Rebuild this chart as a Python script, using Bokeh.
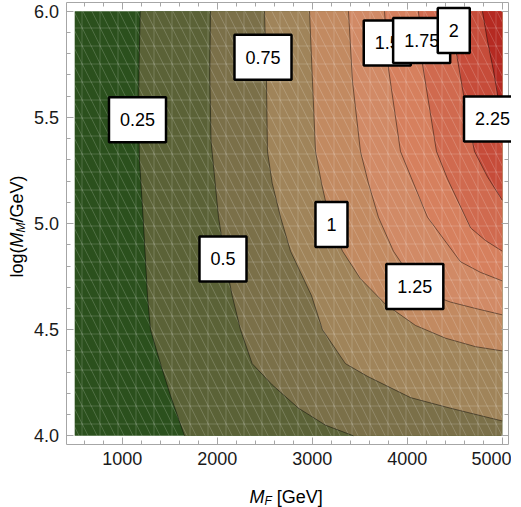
import math

from bokeh.embed import file_html
from bokeh.models import FixedTicker, Label, LinearAxis, PrintfTickFormatter, Range1d
from bokeh.plotting import figure
from bokeh.resources import INLINE

# ---- domain -------------------------------------------------------------
MF_MIN, MF_MAX = 500, 5000          # M_F [GeV]
LM_MIN, LM_MAX = 4.0, 6.0           # log10(M_M / GeV)

# frame box drawn around the domain (a little padding on every side)
BOX_X = (410, 5065)
BOX_Y = (3.959, 6.0415)

levels = [0.25, 0.5, 0.75, 1.0, 1.25, 1.5, 1.75, 2.0, 2.25]

# ---- contour traces (M_F, log M_M), each running down from the top edge ---
c025_mf = [1190, 1178, 1172, 1182, 1224, 1266, 1298, 1403, 1508, 1656]
c025_lm = [6.00, 5.75, 5.50, 5.30, 5.00, 4.66, 4.50, 4.34, 4.19, 4.00]

c050_mf = [1929, 1922, 1935, 2014, 2087, 2158, 2245, 2368, 2579, 2856, 3140, 3434]
c050_lm = [6.00, 5.70, 5.39, 5.03, 4.82, 4.66, 4.50, 4.34, 4.24, 4.13, 4.05, 4.00]

c075_mf = [2498, 2519, 2529, 2579, 2667, 2772, 2993, 3108, 3350, 3582, 4035, 4456, 5000]
c075_lm = [6.00, 5.67, 5.34, 5.19, 5.03, 4.87, 4.66, 4.50, 4.34, 4.28, 4.18, 4.13, 4.07]

c100_mf = [2972, 3003, 3035, 3098, 3193, 3319, 3508, 3771, 4087, 4403, 4719, 5000]
c100_lm = [6.00, 5.67, 5.34, 5.19, 5.00, 4.87, 4.74, 4.62, 4.52, 4.46, 4.42, 4.40]

c125_mf = [3382, 3424, 3508, 3592, 3697, 3855, 4034, 4213, 4456, 4719, 5000]
c125_lm = [6.00, 5.67, 5.34, 5.19, 5.03, 4.87, 4.75, 4.67, 4.63, 4.60, 4.57]

c150_mf = [3761, 3803, 3929, 4066, 4213, 4561, 4771, 5000]
c150_lm = [6.00, 5.73, 5.34, 5.19, 5.03, 4.82, 4.77, 4.73]

c175_mf = [4119, 4161, 4308, 4424, 4666, 4824, 5000]
c175_lm = [6.00, 5.75, 5.34, 5.21, 4.98, 4.92, 4.87]

c200_mf = [4477, 4519, 4603, 4708, 4845, 5000]
c200_lm = [6.00, 5.80, 5.58, 5.34, 5.22, 5.11]

c225_mf = [4792, 4845, 4908, 4961, 5000]
c225_lm = [6.00, 5.86, 5.72, 5.58, 5.51]

contour_mf = [c025_mf, c050_mf, c075_mf, c100_mf, c125_mf, c150_mf, c175_mf, c200_mf, c225_mf]
contour_lm = [c025_lm, c050_lm, c075_lm, c100_lm, c125_lm, c150_lm, c175_lm, c200_lm, c225_lm]

# band colours: below first level, then above each level
band_colors = ["#2b501d", "#5b6237", "#7b7049", "#a0845a", "#c28a61",
               "#d18a66", "#d6805e", "#d06a4f", "#c64c3a", "#b52a22"]

# contour labels
label_text = ["0.25", "0.5", "0.75", "1", "1.25", "1.5", "1.75", "2", "2.25"]
label_mf = [1161, 2061, 2482, 3203, 4080, 3790, 4152, 4490, 4898]
label_lm = [5.489, 4.833, 5.784, 4.995, 4.704, 5.851, 5.862, 5.910, 5.493]

x_major = [1000, 2000, 3000, 4000, 5000]
x_minor = [600, 800, 1200, 1400, 1600, 1800, 2200, 2400, 2600, 2800,
           3200, 3400, 3600, 3800, 4200, 4400, 4600, 4800]
y_major = [4.0, 4.5, 5.0, 5.5, 6.0]
y_minor = [4.1, 4.2, 4.3, 4.4, 4.6, 4.7, 4.8, 4.9, 5.1, 5.2, 5.3, 5.4,
           5.6, 5.7, 5.8, 5.9]

FONT = "Liberation Sans"
FRAME_GRAY = "#a6a6a6"

# the plotting frame covers the whole canvas; the axes are pinned to the box
p = figure(width=511, height=507,
           x_range=Range1d(-281.0, 5097.8), y_range=Range1d(3.6622, 6.0509),
           output_backend="svg", toolbar_location=None,
           min_border_left=0, min_border_right=0,
           min_border_top=0, min_border_bottom=0)
p.title.visible = False
p.outline_line_color = None
p.xgrid.visible = False
p.ygrid.visible = False
p.background_fill_color = "white"
p.border_fill_color = "white"

# filled regions: the whole domain in the lowest band, then each
# "value >= level" region stacked on top
p.quad(left=MF_MIN, right=MF_MAX, bottom=LM_MIN, top=LM_MAX,
       fill_color=band_colors[0], line_color=None)

region_xs, region_ys = [], []
for xs, ys in zip(contour_mf, contour_lm):
    rx, ry = list(xs), list(ys)
    if ry[-1] <= LM_MIN:
        rx.append(MF_MAX)
        ry.append(LM_MIN)
    rx.append(MF_MAX)
    ry.append(LM_MAX)
    region_xs.append(rx)
    region_ys.append(ry)

p.patches(xs=region_xs, ys=region_ys, fill_color=band_colors[1:],
          line_color=None)

# faint triangulation-like mesh over the domain
for pattern in ("cross", "left_diagonal_line"):
    p.quad(left=MF_MIN, right=MF_MAX, bottom=LM_MIN, top=LM_MAX,
           fill_alpha=0, line_color=None,
           hatch_pattern=pattern, hatch_color="white",
           hatch_alpha=0.17, hatch_scale=18, hatch_weight=1)

# contour lines
p.multi_line(xs=contour_mf, ys=contour_lm, line_color="black",
             line_alpha=0.45, line_width=1)

# ---- axes ---------------------------------------------------------------
def pinned_axis(side, ticks, minor, where, bounds, tick_len, minor_len,
                line=True, labels=False, fmt=None):
    ax = LinearAxis(ticker=FixedTicker(ticks=ticks, minor_ticks=minor),
                    fixed_location=where, bounds=bounds)
    ax.axis_line_color = FRAME_GRAY if line else None
    ax.major_tick_line_color = FRAME_GRAY
    ax.minor_tick_line_color = FRAME_GRAY
    ax.major_tick_in = tick_len
    ax.major_tick_out = 0
    ax.minor_tick_in = minor_len
    ax.minor_tick_out = 0
    ax.axis_label_standoff = 0
    if labels:
        ax.formatter = PrintfTickFormatter(format=fmt)
        ax.major_label_text_font = FONT
        ax.major_label_text_font_size = "18px"
        ax.major_label_text_color = "#1a1a1a"
        ax.major_label_standoff = 7
    else:
        ax.major_label_standoff = 0
    p.add_layout(ax, side)
    return ax

for ax in list(p.xaxis) + list(p.yaxis):
    ax.visible = False

pinned_axis("below", x_major, x_minor, BOX_Y[0], BOX_X, 7, 4,
            labels=True, fmt="%d")
pinned_axis("left", y_major, y_minor, BOX_X[0], BOX_Y, 7, 4,
            labels=True, fmt="%.1f")
# top and right: tick marks only (positions carried as unlabeled ticks)
pinned_axis("above", [], x_major, BOX_Y[1], BOX_X, 7, 7)
pinned_axis("above", [], x_minor, BOX_Y[1], BOX_X, 4, 4, line=False)
pinned_axis("right", [], y_major, BOX_X[1], BOX_Y, 7, 7)
pinned_axis("right", [], y_minor, BOX_X[1], BOX_Y, 4, 4, line=False)

# ---- contour labels (later ones sit on top) -----------------------------
for t, x, y in zip(label_text, label_mf, label_lm):
    p.add_layout(Label(x=x, y=y, text=t, text_align="center",
                       text_baseline="middle", text_font=FONT,
                       text_font_size="18px", text_color="black",
                       background_fill_color="white",
                       border_line_color="black", border_line_width=2.5,
                       padding=dict(left=11, right=11, top=16, bottom=16)))

# ---- axis titles built from pieces (italic symbol + subscript) ----------
ADV = {"l": 222, "o": 556, "g": 556, "(": 333, ")": 333, "M": 833, "/": 278,
       "G": 778, "e": 556, "V": 667, "F": 611, " ": 278, "[": 278, "]": 278}

def text_width(s, size):
    return sum(ADV[c] for c in s) * size / 1000.0

def title_pieces(pieces, x, y, vertical):
    pos = 0.0
    for txt, style, size, shift in pieces:
        shown = txt.lstrip(" ")
        lead = text_width(txt[:len(txt) - len(shown)], size)
        kw = dict(text=shown, text_font=FONT, text_font_size=f"{size}px",
                  text_font_style=style, text_color="black",
                  text_align="left", text_baseline="alphabetic")
        if vertical:
            lab = Label(x=x, y=y, angle=math.pi / 2, x_offset=shift,
                        y_offset=pos + lead, **kw)
        else:
            lab = Label(x=x, y=y, x_offset=pos + lead, y_offset=-shift, **kw)
        p.add_layout(lab)
        pos += text_width(txt, size)

title_pieces([("M", "italic", 18, 0), ("F", "italic", 12, 4),
              (" [GeV]", "normal", 18, 0)], 2340, 3.712, vertical=False)
title_pieces([("log(", "normal", 18, 0), ("M", "italic", 18, 0),
              ("M", "italic", 12, 4), ("/GeV)", "normal", 18, 0)],
             -107.3, 4.746, vertical=True)

open("out.html", "w").write(file_html(p, INLINE))
